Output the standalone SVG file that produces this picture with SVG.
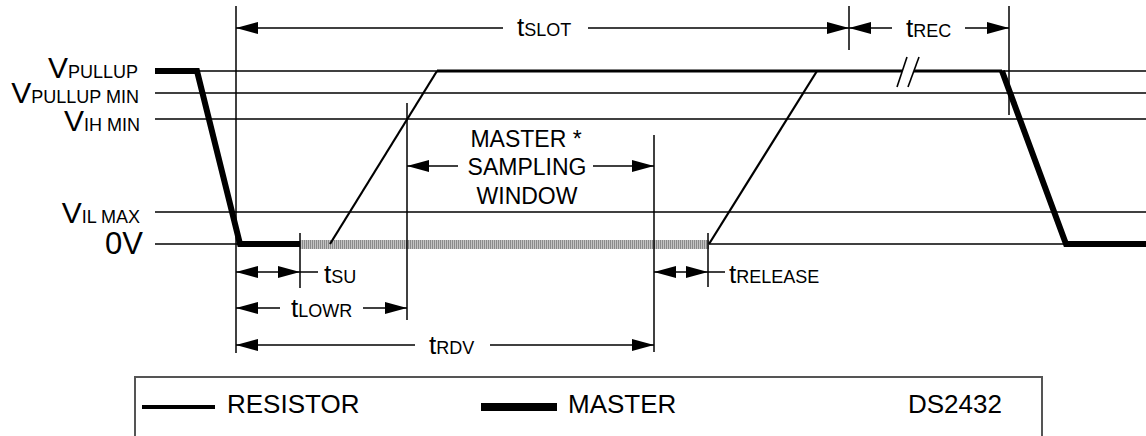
<svg xmlns="http://www.w3.org/2000/svg" width="1146" height="436" viewBox="0 0 1146 436">
<style>
.ref{stroke:#000;stroke-width:1.5;fill:none}
.vl{stroke:#000;stroke-width:1.5;fill:none}
.res{stroke:#000;stroke-width:2.2;fill:none}
.mst{stroke:#000;stroke-width:6;fill:none;stroke-linejoin:miter}
.arr{stroke:#000;stroke-width:1.5;fill:none}
.a2{marker-start:url(#ah);marker-end:url(#ah)}
.as{marker-start:url(#ah)}
.ae{marker-end:url(#ah)}
text{font-family:"Liberation Sans",Arial,sans-serif;fill:#000}
.big{font-size:30px}
.zv{font-size:31px}
.vs{font-size:18px}
.tb{font-size:26px}
.ts{font-size:18px}
.lbl{font-size:23px}
.leg{font-size:26px}
</style>
<defs>
<marker id="ah" viewBox="0 0 22 12" markerWidth="22" markerHeight="12" refX="22" refY="6" orient="auto-start-reverse" markerUnits="userSpaceOnUse">
<path d="M0,0 L22,6 L0,12 Z" fill="#000"/>
</marker>
<pattern id="stripe" width="2" height="10" patternUnits="userSpaceOnUse">
<rect width="2" height="10" fill="#c4c4c4"/>
<rect width="1" height="10" fill="#8a8a8a"/>
</pattern>
</defs>

<g id="levels">
<line class="ref" x1="155" y1="71" x2="1146" y2="71"/>
<line class="ref" x1="155" y1="93" x2="1146" y2="93"/>
<line class="ref" x1="155" y1="119" x2="1146" y2="119"/>
<line class="ref" x1="155" y1="212" x2="1146" y2="212"/>
<line class="ref" x1="155" y1="244" x2="1146" y2="244"/>
</g>

<g id="level-labels">
<text x="138" y="78" text-anchor="end"><tspan class="big">V</tspan><tspan class="vs">PULLUP</tspan></text>
<text x="139" y="103" text-anchor="end"><tspan class="big">V</tspan><tspan class="vs">PULLUP MIN</tspan></text>
<text x="140" y="131" text-anchor="end"><tspan class="big">V</tspan><tspan class="vs">IH MIN</tspan></text>
<text x="140" y="223" text-anchor="end"><tspan class="big">V</tspan><tspan class="vs">IL MAX</tspan></text>
<text x="143" y="254" text-anchor="end" class="zv">0V</text>
</g>

<g id="sampling-bar">
<rect x="300" y="240" width="409" height="9" fill="url(#stripe)"/>
</g>

<g id="waveform">
<line class="res" x1="437" y1="71" x2="1002" y2="71" style="stroke-width:3.2"/>
<line class="res" x1="330" y1="244" x2="437" y2="71"/>
<line class="res" x1="709" y1="244" x2="817" y2="71"/>
<polyline class="mst" points="155,71 197,71 240,244 300,244"/>
<polyline class="mst" points="1002,71 1066,244 1146,244"/>
</g>

<g id="break-mark">
<polygon points="897,87 907,57 919,57 908,87" fill="#fff"/>
<line x1="897" y1="87" x2="907" y2="57" stroke="#000" stroke-width="1.6"/>
<line x1="908" y1="87" x2="919" y2="57" stroke="#000" stroke-width="1.6"/>
</g>

<g id="connectors">
<line class="vl" x1="236" y1="6" x2="236" y2="353"/>
<line class="vl" x1="300" y1="233" x2="300" y2="288"/>
<line class="vl" x1="407" y1="103" x2="407" y2="320"/>
<line class="vl" x1="654" y1="135" x2="654" y2="352"/>
<line class="vl" x1="708" y1="233" x2="708" y2="287"/>
<line class="vl" x1="849" y1="6" x2="849" y2="50"/>
<line class="vl" x1="1009" y1="6" x2="1009" y2="115"/>

<line class="arr as" x1="236" y1="28" x2="503" y2="28"/>
<line class="arr ae" x1="588" y1="28" x2="849" y2="28"/>
<line class="arr as" x1="849" y1="28" x2="892" y2="28"/>
<line class="arr ae" x1="965" y1="28" x2="1009" y2="28"/>

<line class="arr as" x1="407" y1="166" x2="458" y2="166"/>
<line class="arr ae" x1="593" y1="166" x2="654" y2="166"/>

<line class="arr a2" x1="236" y1="272" x2="300" y2="272"/>
<line class="arr" x1="300" y1="272" x2="318" y2="272"/>
<line class="arr as" x1="236" y1="308" x2="280" y2="308"/>
<line class="arr ae" x1="363" y1="308" x2="407" y2="308"/>
<line class="arr as" x1="236" y1="345" x2="415" y2="345"/>
<line class="arr ae" x1="490" y1="345" x2="654" y2="345"/>
<line class="arr a2" x1="654" y1="272" x2="708" y2="272"/>
<line class="arr" x1="708" y1="272" x2="725" y2="272"/>
</g>

<g id="timing-labels">
<text x="517" y="36"><tspan class="tb">t</tspan><tspan class="ts">SLOT</tspan></text>
<text x="906" y="37"><tspan class="tb">t</tspan><tspan class="ts">REC</tspan></text>
<text x="324" y="283"><tspan class="tb">t</tspan><tspan class="ts">SU</tspan></text>
<text x="291" y="317"><tspan class="tb">t</tspan><tspan class="ts">LOWR</tspan></text>
<text x="429" y="354"><tspan class="tb">t</tspan><tspan class="ts">RDV</tspan></text>
<text x="729" y="283"><tspan class="tb">t</tspan><tspan class="ts">RELEASE</tspan></text>
</g>

<g id="sampling-label">
<text class="lbl" x="526" y="147" text-anchor="middle">MASTER *</text>
<text class="lbl" x="527" y="175" text-anchor="middle">SAMPLING</text>
<text class="lbl" x="527" y="204" text-anchor="middle">WINDOW</text>
</g>

<g id="legend">
<polyline points="135,436 135,377 1042,377 1042,436" fill="none" stroke="#555" stroke-width="2"/>
<line x1="142" y1="407" x2="215" y2="407" stroke="#000" stroke-width="4"/>
<text class="leg" x="227" y="413">RESISTOR</text>
<line x1="481" y1="407" x2="557" y2="407" stroke="#000" stroke-width="8"/>
<text class="leg" x="568" y="413">MASTER</text>
<text class="leg" x="908" y="413">DS2432</text>
</g>
</svg>
